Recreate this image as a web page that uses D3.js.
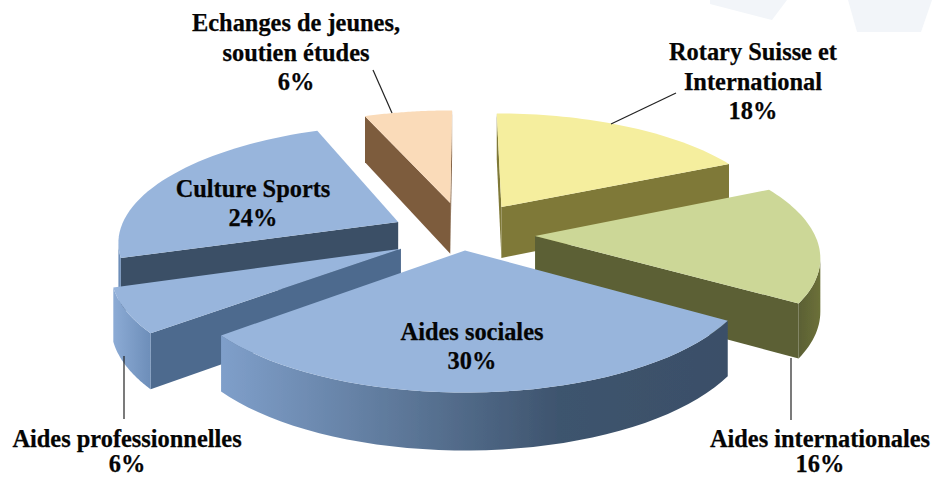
<!DOCTYPE html>
<html>
<head>
<meta charset="utf-8">
<script src="https://cdn.jsdelivr.net/npm/d3@7"></script>
<style>
    html, body { margin: 0; padding: 0; background: #fff; }
    svg { display: block; }
    text { font-family: "Liberation Serif", serif; font-weight: bold; font-size: 24.4px; fill: #050505; stroke: #050505; stroke-width: 0.25px; }
</style>
</head>
<body>
<div id="chart"></div>
<script>
// slices clockwise from 12 o'clock
const categories = ["Rotary Suisse et International", "Aides internationales", "Aides sociales",
    "Aides professionnelles", "Culture Sports", "Echanges de jeunes, soutien études"];
const shares = [18, 16, 30, 6, 24, 6];

const topColors = ["#f5ee9e", "#ccd797", "#98b5dc", "#98b5dc", "#98b5dc", "#fadbb9"];
const sideColors = ["#7f7937", "#5b6035", "#3f5570", "#4d6a8e", "#3a4f66", "#7d5b3e"];
const arcStops = [
    ["#7f7937", "#7f7937"],
    ["#5b6035", "#6c7038"],
    ["#7f9fca", "#5f7a9c", "#3e546e", "#3a4f68"],
    ["#8cabd5", "#6d8eb9"],
    ["#6d8eb9", "#6d8eb9"],
    ["#7d5b3e", "#7d5b3e"]
];

const width = 933, height = 477;
const cx = 465, cy = 230;
const A = 278, B = 114, k = 0.15;    // plane to screen, k = perspective strength

// how far each slice is pulled out, on the pie's plane (not a clean explode in the original)
const pullU = [0.135, 0.25, 0.0, -0.225, -0.243, -0.055];
const pullV = [-0.208, 0.052, 0.175, 0.16, -0.072, -0.245];

const svg = d3.select("#chart").append("svg")
    .attr("width", width)
    .attr("height", height);

const defs = svg.append("defs");
defs.append("filter").attr("id", "soft")
    .append("feGaussianBlur").attr("stdDeviation", 0.6);

// faint shapes left over in the page background
svg.append("path").attr("d", "M710,0 L710,4 L772,20 L787,0 Z").attr("fill", "#f2f5f9");
svg.append("path").attr("d", "M848,0 L857,32 L921,32 L932,0 Z").attr("fill", "#f2f5f9");

function project(u, v) {
    const w = 1 / (1 - k * v);
    return {x: cx + A * u * w, y: cy + B * v * w, drop: 52 + 5 * v};
}

const line = d3.line().x(d => d.x).y(d => d.y);

const arcs = d3.pie().sort(null)(shares);
const order = [5, 0, 4, 1, 3, 2];    // back to front

const pie = svg.append("g").attr("filter", "url(#soft)");

order.forEach(i => {
    const a = arcs[i];
    const u0 = pullU[i], v0 = pullV[i];

    const apex = project(u0, v0);
    const rim = d3.range(0, 41).map(t => {
        const th = a.startAngle + (a.endAngle - a.startAngle) * t / 40;
        return project(u0 + Math.sin(th), v0 - Math.cos(th));
    });
    const lower = p => ({x: p.x, y: p.y + p.drop});
    const wall = (p, q) => [p, q, lower(q), lower(p)];

    const g = pie.append("g");

    // only walls walked leftwards face the viewer
    const first = rim[0], last = rim[rim.length - 1];
    if (first.x < apex.x) g.append("path").attr("d", line(wall(apex, first)) + "Z").attr("fill", sideColors[i]);
    if (apex.x < last.x) g.append("path").attr("d", line(wall(last, apex)) + "Z").attr("fill", sideColors[i]);

    const visible = rim.filter((p, j) => (j > 0 && p.x <= rim[j - 1].x) || (j < 40 && rim[j + 1].x <= p.x));
    if (visible.length > 1) {
        const id = "arc" + i;
        const grad = defs.append("linearGradient").attr("id", id)
            .attr("gradientUnits", "userSpaceOnUse")
            .attr("x1", d3.min(visible, d => d.x)).attr("x2", d3.max(visible, d => d.x))
            .attr("y1", 0).attr("y2", 0);
        arcStops[i].forEach((c, j) => grad.append("stop")
            .attr("offset", j / (arcStops[i].length - 1)).attr("stop-color", c));
        const outline = visible.concat(visible.map(lower).reverse());
        g.append("path").attr("d", line(outline) + "Z").attr("fill", `url(#${id})`);
    }

    g.append("path").attr("d", line([apex, ...rim]) + "Z").attr("fill", topColors[i]);
});

// leader lines
const leaders = [[373, 70, 392, 113], [676, 93, 611, 124], [791, 358, 791, 420], [124, 356, 124, 419]];
svg.selectAll(".leader").data(leaders).enter().append("line")
    .attr("class", "leader")
    .attr("x1", d => d[0]).attr("y1", d => d[1])
    .attr("x2", d => d[2]).attr("y2", d => d[3])
    .attr("stroke", "#222").attr("stroke-width", 1.2);

// labels
const labelLines = [
    ["Rotary Suisse et", "International", shares[0] + "%"],
    [categories[1], shares[1] + "%"],
    [categories[2], shares[2] + "%"],
    [categories[3], shares[3] + "%"],
    [categories[4], shares[4] + "%"],
    ["Echanges de jeunes,", "soutien études", shares[5] + "%"]
];
const labelPos = [[753, 60, 29.5], [820, 447, 24.5], [472, 340, 29], [127, 447, 24.5], [253, 197, 29], [296, 31, 29.5]];

labelLines.forEach((rows, i) => {
    const [x, y, step] = labelPos[i];
    svg.append("g").selectAll("text").data(rows).enter().append("text")
        .attr("x", x)
        .attr("y", (d, j) => y + j * step)
        .attr("text-anchor", "middle")
        .text(d => d);
});
</script>
</body>
</html>
